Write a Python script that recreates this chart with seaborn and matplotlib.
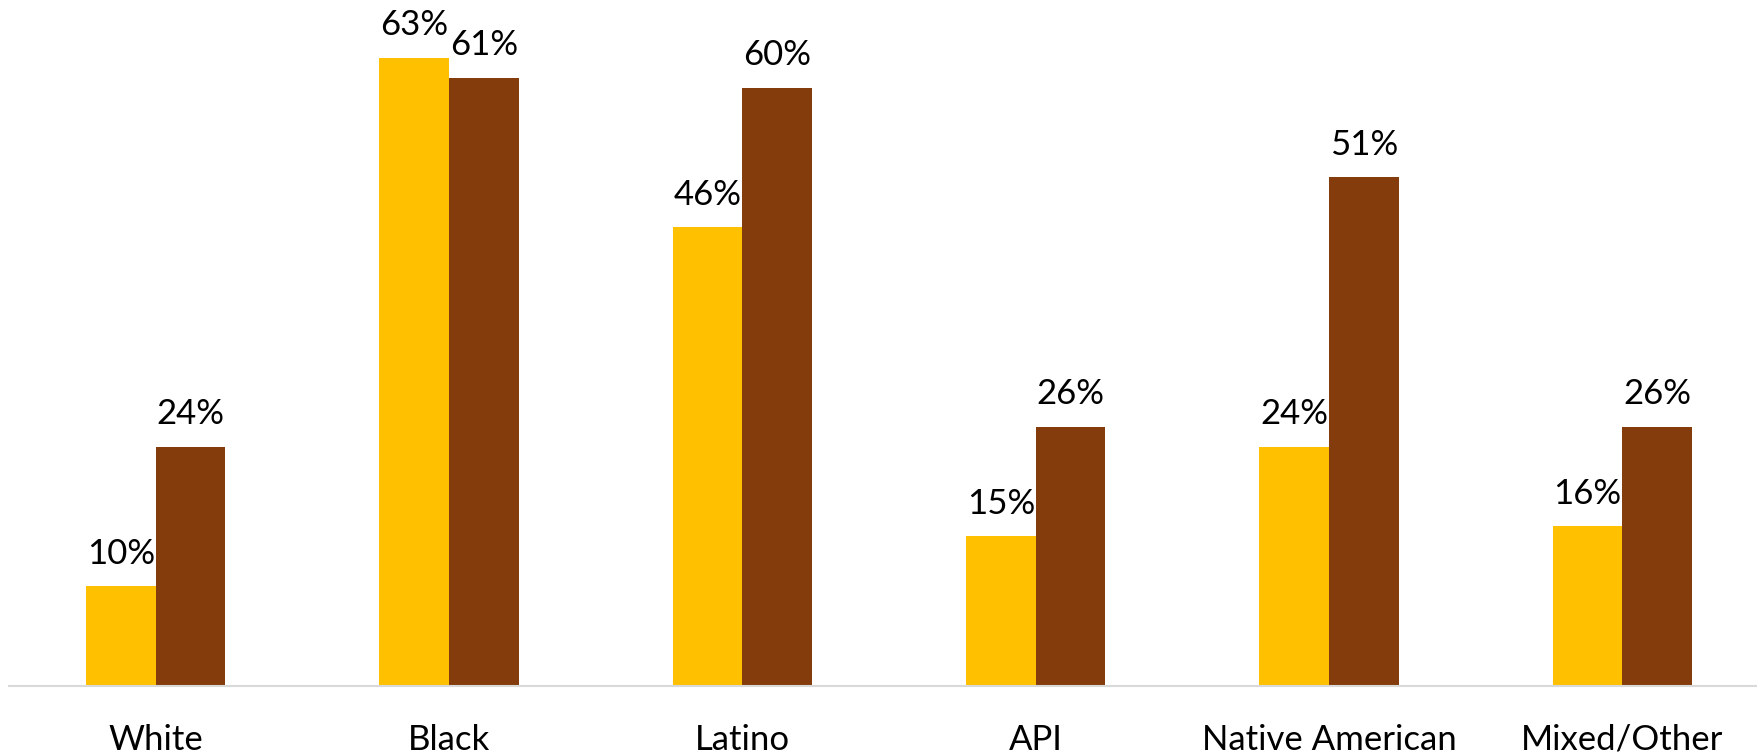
import matplotlib
matplotlib.use("Agg")
import matplotlib.pyplot as plt
import seaborn as sns
import pandas as pd

# Categories and the two series of percentages
categories = ["White", "Black", "Latino", "API", "Native American", "Mixed/Other"]
series_names = ["Series 1", "Series 2"]
series_1 = [10, 63, 46, 15, 24, 16]
series_2 = [24, 61, 60, 26, 51, 26]
colors = ["#FFC000", "#843C0C"]

df = pd.DataFrame({
    "category": categories * 2,
    "series": [series_names[0]] * len(categories) + [series_names[1]] * len(categories),
    "value": series_1 + series_2,
})

sns.set_theme(style="white")
plt.rcParams["font.family"] = ["Lato", "DejaVu Sans"]

W, H, DPI = 1758, 752, 100
fig = plt.figure(figsize=(W / DPI, H / DPI), dpi=DPI)
# axes spans six category slots; the right edge runs slightly past the canvas
left_px, right_px, base_px = 9, 1769, 686
ax = fig.add_axes([left_px / W, (H - base_px) / H, (right_px - left_px) / W, base_px / H])

sns.barplot(data=df, x="category", y="value", hue="series", palette=colors,
            order=categories, hue_order=series_names, width=0.474, gap=0,
            linewidth=0, saturation=1, legend=False, ax=ax)

ax.set_xlim(-0.5, 5.5)
ax.set_ylim(0, 68.8)

for cont in ax.containers:
    ax.bar_label(cont, fmt="{:.0f}%", padding=12, fontsize=25, color="black")

ax.set_xlabel("")
ax.set_ylabel("")
ax.set_yticks([])
ax.tick_params(axis="x", length=0, pad=27, labelsize=25, labelcolor="black")
for side in ["top", "right", "left"]:
    ax.spines[side].set_visible(False)
ax.spines["bottom"].set_color("#D9D9D9")
ax.spines["bottom"].set_linewidth(1.5)

fig.savefig("out.png", dpi=DPI)
